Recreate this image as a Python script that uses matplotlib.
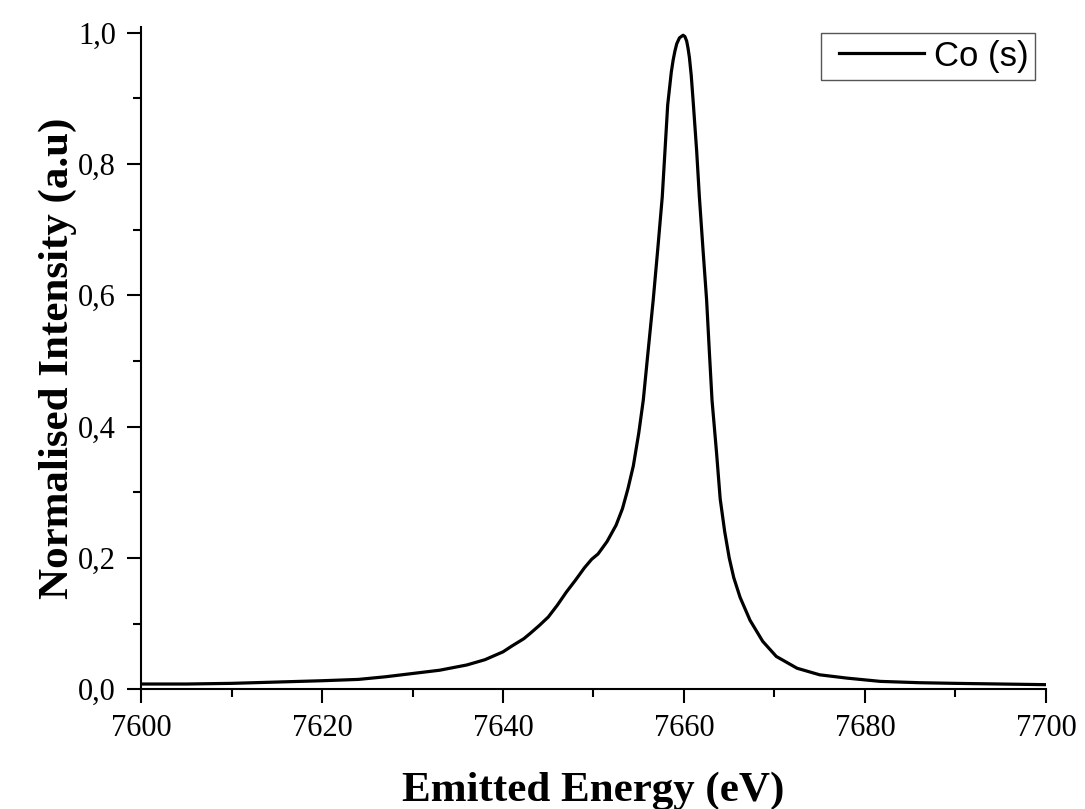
#!/usr/bin/env python3
# Co K-beta emission spectrum, normalised intensity vs emitted energy
import numpy as np
import matplotlib.pyplot as plt
from matplotlib.lines import Line2D
from matplotlib.legend_handler import HandlerLine2D
from matplotlib.ticker import MultipleLocator, FuncFormatter

energy = [7600, 7605, 7610, 7615, 7620, 7624, 7627, 7630, 7633, 7636,
          7638, 7640, 7641, 7642.3, 7643, 7644, 7645, 7646, 7647, 7648,
          7649, 7649.8, 7650.5, 7651.5, 7652.5, 7653.2, 7653.8, 7654.4, 7655, 7655.5,
          7656, 7656.6, 7657.1, 7657.6, 7657.9, 7658.2, 7658.6, 7658.8, 7659, 7659.2,
          7659.5, 7659.9, 7660.1, 7660.3, 7660.45, 7660.6, 7660.8, 7661.0, 7661.4, 7661.7,
          7662.1, 7662.5, 7662.8, 7663.1, 7663.6, 7664.0, 7664.5, 7665.0, 7665.5, 7666.2,
          7667.3, 7668.7, 7670.2, 7672.5, 7675, 7678, 7681.7, 7686, 7690, 7695, 7700]
intensity = [0.008, 0.008, 0.009, 0.011, 0.013, 0.015, 0.019, 0.024, 0.029, 0.037,
             0.045, 0.057, 0.066, 0.077, 0.085, 0.097, 0.110, 0.128, 0.148, 0.166,
             0.185, 0.198, 0.206, 0.225, 0.250, 0.275, 0.305, 0.340, 0.390, 0.440,
             0.510, 0.593, 0.670, 0.750, 0.820, 0.890, 0.940, 0.958, 0.972, 0.983,
             0.992, 0.996, 0.994, 0.987, 0.976, 0.962, 0.935, 0.898, 0.820, 0.750,
             0.670, 0.593, 0.515, 0.440, 0.360, 0.290, 0.240, 0.200, 0.170, 0.140,
             0.105, 0.073, 0.050, 0.032, 0.022, 0.017, 0.012, 0.010, 0.009, 0.008, 0.007]
series_label = 'Co (s)'

serif = ['Liberation Serif', 'DejaVu Serif']
sans = ['Liberation Sans', 'DejaVu Sans']

fig = plt.figure(figsize=(10.85, 8.09), dpi=100)
ax = fig.add_axes([0.130, 0.148, 0.834, 0.819])

ax.plot(energy, intensity, color='black', lw=2.3, label=series_label)

ax.set_xlim(7600, 7700)
ax.set_ylim(0, 1.009)
ax.xaxis.set_major_locator(MultipleLocator(20))
ax.xaxis.set_minor_locator(MultipleLocator(10))
ax.yaxis.set_major_locator(MultipleLocator(0.2))
ax.yaxis.set_minor_locator(MultipleLocator(0.1))
ax.yaxis.set_major_formatter(FuncFormatter(lambda v, p: f'{v:.1f}'.replace('.', ',')))

for side in ('top', 'right'):
    ax.spines[side].set_visible(False)
for side in ('left', 'bottom'):
    ax.spines[side].set_linewidth(1.5)

ax.tick_params(which='major', direction='out', length=10, width=1.5, pad=8)
ax.tick_params(which='minor', direction='out', length=6, width=1.5)
for lab in ax.get_xticklabels() + ax.get_yticklabels():
    lab.set_family(serif)
    lab.set_fontsize(22)

ax.set_xlabel('Emitted Energy (eV)', family=serif, fontweight='bold', fontsize=31, labelpad=20)
ax.set_ylabel('Normalised Intensity (a.u)', family=serif, fontweight='bold', fontsize=31, labelpad=1)

leg = ax.legend(loc='upper right', bbox_to_anchor=(0.988, 0.991), borderaxespad=0,
                prop={'family': sans, 'size': 25}, handlelength=2.75, handletextpad=0.28,
                borderpad=0.2, fancybox=False, framealpha=1,
                handler_map={Line2D: HandlerLine2D(xpad=0.32)})
leg.get_frame().set_edgecolor('#555555')
leg.get_frame().set_linewidth(1.0)

fig.savefig('out.png', dpi=100)
